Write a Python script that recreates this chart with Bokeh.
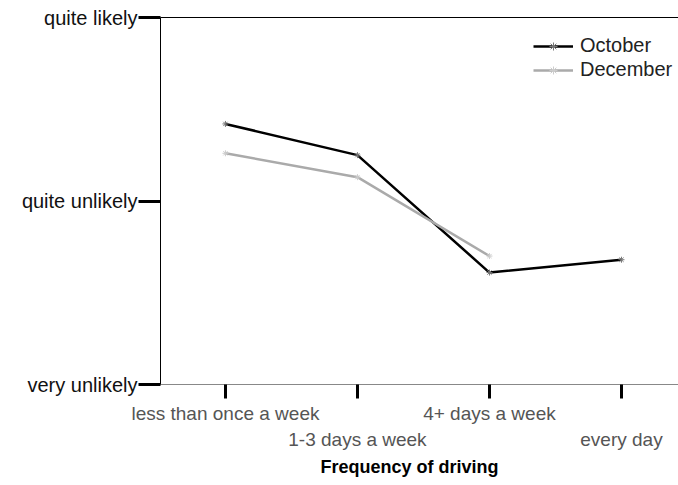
from bokeh.plotting import figure
from bokeh.models import Range1d, FixedTicker, LinearAxis, Title
from bokeh.embed import file_html
from bokeh.resources import INLINE

# Survey answers by driving frequency
freq_labels = ["less than once a week", "1-3 days a week", "4+ days a week", "every day"]
likelihood_labels = ["very unlikely", "quite unlikely", "quite likely"]
likelihood_levels = [1, 2, 3]
october = [2.42, 2.25, 1.61, 1.68]
december = [2.26, 2.13, 1.70]

FONT = "Liberation Sans"

x_pos = list(range(len(freq_labels)))

p = figure(
    width=678, height=485,
    x_range=Range1d(-0.492, 3.432),
    y_range=Range1d(1, 3),
    output_backend="svg", toolbar_location=None,
    min_border_left=160, min_border_right=0, min_border_top=17, min_border_bottom=101,
)
p.grid.visible = False
p.outline_line_color = None
p.background_fill_color = "white"
p.border_fill_color = "white"

# series
p.line(x_pos, october, line_color="black", line_width=2.5, legend_label="October")
p.scatter(x_pos, october, marker="asterisk", size=6, line_color="#777777", legend_label="October")
p.line(x_pos[:len(december)], december, line_color="#aaaaaa", line_width=2.5, legend_label="December")
p.scatter(x_pos[:len(december)], december, marker="asterisk", size=6, line_color="#cccccc", legend_label="December")

# x axis: staggered category labels
xa = p.xaxis[0]
xa.ticker = FixedTicker(ticks=x_pos)
xa.major_label_overrides = {
    i: (lab if i % 2 == 0 else "\n" + lab) for i, lab in enumerate(freq_labels)
}
xa.axis_line_color = "#888888"
xa.axis_line_width = 1
xa.major_tick_line_color = "black"
xa.major_tick_line_width = 3
xa.major_tick_out = 14
xa.major_tick_in = 0
xa.minor_tick_line_color = None
xa.major_label_standoff = 4
xa.major_label_text_font = FONT
xa.major_label_text_font_size = "19px"
xa.major_label_text_color = "#555555"
xa.major_label_text_line_height = 1.25

# y axis: likelihood scale
ya = p.yaxis[0]
ya.ticker = FixedTicker(ticks=likelihood_levels)
ya.major_label_overrides = {v: lab for v, lab in zip(likelihood_levels, likelihood_labels)}
ya.axis_line_color = "black"
ya.axis_line_width = 1
ya.major_tick_line_color = "black"
ya.major_tick_line_width = 3
ya.major_tick_out = 22
ya.major_tick_in = 0
ya.minor_tick_line_color = None
ya.major_label_standoff = 1
ya.major_label_text_font = FONT
ya.major_label_text_font_size = "20px"
ya.major_label_text_color = "#111111"

# top border line
top = LinearAxis(ticker=FixedTicker(ticks=[]), axis_line_color="black", axis_line_width=1,
                 major_tick_line_color=None, minor_tick_line_color=None,
                 major_label_text_font_size="0px", major_label_standoff=0)
p.add_layout(top, "above")

# x axis title
p.add_layout(Title(text="Frequency of driving", align="left", offset=160, standoff=5,
                   text_font=FONT, text_font_size="18px", text_font_style="bold",
                   text_color="black"), "below")

leg = p.legend[0]
leg.location = (373, 303)
leg.padding = 0
leg.margin = 0
leg.spacing = 1
leg.glyph_width = 40
leg.glyph_height = 20
leg.label_height = 20
leg.label_standoff = 7
leg.label_text_font = FONT
leg.label_text_font_size = "20px"
leg.label_text_color = "#222222"
leg.border_line_color = None
leg.background_fill_alpha = 0

open("out.html", "w").write(file_html(p, INLINE))
